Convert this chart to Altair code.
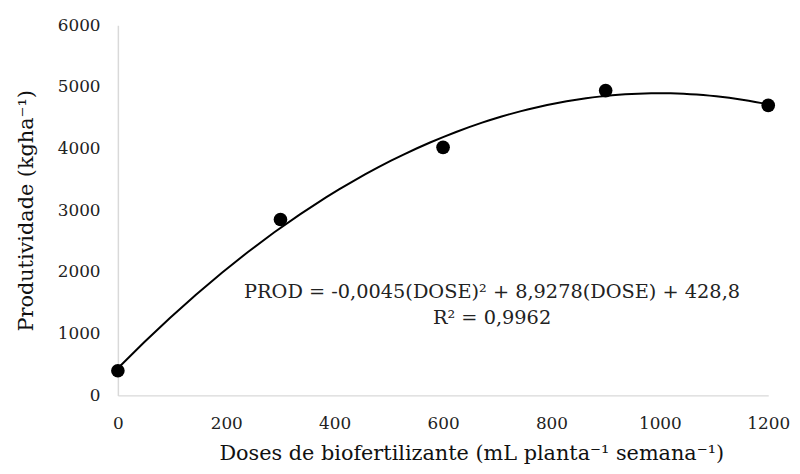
import altair as alt
import pandas as pd

doses = [0, 300, 600, 900, 1200]
prod = [400, 2850, 4020, 4940, 4700]
x_ticks = [0, 200, 400, 600, 800, 1000, 1200]
y_ticks = [0, 1000, 2000, 3000, 4000, 5000, 6000]
eq_line1 = "PROD = -0,0045(DOSE)² + 8,9278(DOSE) + 428,8"
eq_line2 = "R² = 0,9962"
x_title = "Doses de biofertilizante (mL planta⁻¹ semana⁻¹)"
y_title = "Produtividade (kgha⁻¹)"

df = pd.DataFrame({"dose": doses, "prod": prod})
FONT = "DejaVu Serif"

x_enc = alt.X("dose:Q", scale=alt.Scale(domain=[0, 1200], nice=False),
              axis=alt.Axis(values=x_ticks, format="d", title=x_title,
                            labelFlush=False, labelOverlap=False,
                            titleX=357, titleY=59, titleBaseline="middle",
                            titleAlign="center", titleAnchor=None))
y_enc = alt.Y("prod:Q", scale=alt.Scale(domain=[0, 6000], nice=False),
              axis=alt.Axis(values=y_ticks, format="d", title=y_title,
                            labelFlush=False, labelOverlap=False,
                            titleX=-92, titleY=187, titleAngle=-90,
                            titleBaseline="middle", titleAlign="center"))

base = alt.Chart(df)
curve = base.transform_regression("dose", "prod", method="poly", order=2,
                                  extent=[0, 1200]).mark_line(
    color="black", strokeWidth=2).encode(x=x_enc, y=y_enc)
points = base.mark_circle(size=190, color="black", opacity=1).encode(x=x_enc, y=y_enc)

t1 = alt.Chart(pd.DataFrame({"t": [eq_line1]})).mark_text(
    font=FONT, fontSize=19.5, color="#222", align="center", baseline="middle").encode(
    text="t:N", x=alt.value(378), y=alt.value(270))
t2 = alt.Chart(pd.DataFrame({"t": [eq_line2]})).mark_text(
    font=FONT, fontSize=19.5, color="#222", align="center", baseline="middle").encode(
    text="t:N", x=alt.value(378), y=alt.value(296))

chart = alt.layer(curve, points, t1, t2).properties(
    width=657, height=374,
    padding={"left": 111, "top": 15, "right": 24, "bottom": 69},
    autosize=alt.AutoSizeParams(type="none"),
).configure_view(stroke=None).configure_axis(
    grid=False, ticks=False, domainColor="#d9d9d9", domainWidth=1.5,
    labelFont=FONT, labelFontSize=17, labelColor="#222",
    titleFont=FONT, titleFontSize=21, titleColor="#111", titleFontWeight="normal",
).configure_axisX(labelPadding=20).configure_axisY(labelPadding=18)

chart.save("out.html", embed_options={"renderer": "svg", "actions": False})
